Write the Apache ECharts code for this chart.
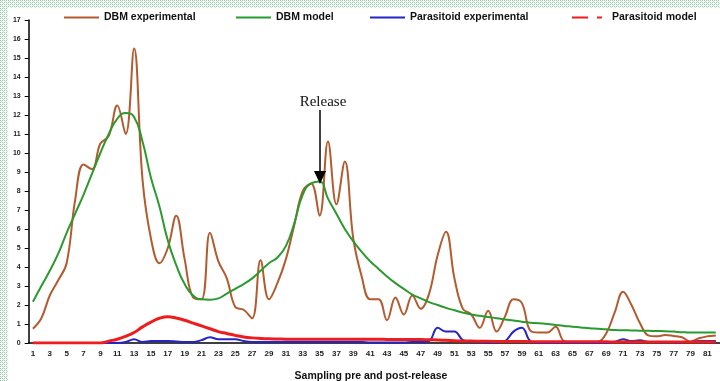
<!DOCTYPE html>
<html><head><meta charset="utf-8">
<script src="https://cdn.jsdelivr.net/npm/echarts@6/dist/echarts.min.js"></script>
<style>html,body{margin:0;padding:0;background:#fff}#c{width:720px;height:381px}</style>
</head><body><div id="c"></div>
<script>
const categories = [];
for (let i = 1; i <= 82; i++) categories.push(String(i));

const dbmExperimental = [0.75,1.3,2.5,3.3,4.2,7.5,9.4,9.15,10.5,10.9,12.5,11.0,15.5,8.6,5.5,4.2,5.0,6.7,4.4,2.4,
  2.3,5.8,4.3,3.4,1.9,1.75,1.3,4.35,2.3,3.15,4.4,6.2,8.0,8.4,6.7,10.6,7.3,9.55,5.5,3.5,
  2.3,2.3,1.2,2.4,1.5,2.5,1.8,2.6,4.6,5.85,3.4,1.8,1.5,0.8,1.7,0.6,1.4,2.3,2.1,0.65,
  0.55,0.55,0.85,0.1,0.05,0.05,0.05,0.05,0.5,1.6,2.7,2.0,1.05,0.4,0.35,0.42,0.37,0.3,0.07,0.25,
  0.35,0.4];
const dbmModel = [2.17,3.0,3.8,4.7,5.8,6.8,7.8,8.9,10.0,11.0,11.8,12.1,11.9,10.6,8.7,7.2,5.4,4.1,3.1,2.5,
  2.3,2.28,2.35,2.6,2.85,3.1,3.4,3.8,4.2,4.5,5.1,6.3,7.8,8.4,8.5,7.6,6.8,6.0,5.35,4.8,
  4.3,3.9,3.5,3.15,2.85,2.55,2.35,2.15,2.0,1.85,1.72,1.6,1.5,1.43,1.37,1.3,1.24,1.18,1.12,1.07,
  1.04,1.0,0.95,0.9,0.86,0.82,0.78,0.75,0.72,0.68,0.67,0.66,0.65,0.64,0.63,0.62,0.6,0.57,0.55,0.55,
  0.55,0.55];
const parasitoidExperimental = [0,0,0,0,0,0,0,0,0,0,0,0.05,0.2,0.05,0.1,0.1,0.1,0.08,0.05,0.05,
  0.15,0.3,0.2,0.2,0.2,0.1,0.05,0.05,0.05,0.05,0.05,0.05,0.05,0.05,0.05,0.05,0.05,0.05,0.05,0.05,
  0.03,0.03,0.03,0.03,0.03,0.05,0.05,0.1,0.8,0.6,0.6,0.15,0.05,0.05,0.03,0.03,0.1,0.6,0.8,0.1,
  0,0,0,0,0,0,0,0,0,0.05,0.2,0.1,0.15,0.05,0.03,0.03,0.03,0.03,0.05,0.1,
  0.1,0.1];
const parasitoidModel = [0,0,0,0,0,0,0,0,0,0.1,0.2,0.35,0.55,0.85,1.1,1.3,1.38,1.32,1.2,1.05,
  0.9,0.75,0.6,0.5,0.4,0.32,0.27,0.24,0.22,0.21,0.2,0.2,0.2,0.2,0.2,0.2,0.2,0.2,0.2,0.2,
  0.2,0.2,0.19,0.19,0.19,0.18,0.18,0.17,0.16,0.14,0.12,0.1,0.1,0.09,0.09,0.08,0.08,0.08,0.08,0.07,
  0.07,0.07,0.07,0.06,0.06,0.06,0.06,0.06,0.06,0.05,0.05,0.05,0.05,0.05,0.05,0.05,0.05,0.05,0.05,0.05,
  0.05,0.05];
const yTicks = {min: 0, max: 17, interval: 1};

const seriesNames = ['DBM experimental', 'DBM model', 'Parasitoid experimental', 'Parasitoid model'];
const colors = ['#b35a2e', '#2a9a2e', '#2424c8', '#ee1c1c'];

// dotted border pattern
const pc = document.createElement('canvas');
pc.width = 4; pc.height = 4;
const px = pc.getContext('2d');
px.fillStyle = '#ffffff'; px.fillRect(0,0,4,4);
px.fillStyle = '#8fcca3';
px.fillRect(0,0,1,1); px.fillRect(2,2,1,1); px.fillRect(2,0,1,1); px.fillRect(0,2,1,1);
px.fillStyle = '#c0e4cb';
px.fillRect(1,1,1,1); px.fillRect(3,3,1,1);

const chart = echarts.init(document.getElementById('c'), null, {renderer: 'canvas'});
const font = 'Liberation Sans, Arial, sans-serif';
function legendBase(i, left, dash) {
  const item = {name: seriesNames[i]};
  if (dash) item.lineStyle = {type: [16, 9, 5, 40], width: 2};
  return {
    show: true, top: 12, left: left, itemWidth: 35, itemHeight: 10, itemGap: 0, padding: 0,
    data: [item],
    itemStyle: {opacity: 0},
    textStyle: {fontFamily: font, fontWeight: 'bold', fontSize: 10.5, color: '#111'}
  };
}

chart.setOption({
  animation: false,
  backgroundColor: '#fff',
  color: colors,
  legend: [
    legendBase(0, 63),
    legendBase(1, 235),
    legendBase(2, 369),
    legendBase(3, 571, true)
  ],
  grid: {left: 28.7, right: -7, top: 20, bottom: 38, containLabel: false},
  xAxis: {
    type: 'category', data: categories, boundaryGap: true,
    axisLine: {lineStyle: {color: '#000', width: 1.5}},
    axisTick: {alignWithLabel: true, interval: 0, length: 4, lineStyle: {color: '#000', width: 1}},
    axisLabel: {interval: 1, margin: 7, fontFamily: font, fontWeight: 'bold', fontSize: 8, color: '#222'},
    splitLine: {show: false}
  },
  yAxis: {
    type: 'value', min: yTicks.min, max: yTicks.max, interval: yTicks.interval,
    axisLine: {show: true, lineStyle: {color: '#000', width: 1.5}},
    axisTick: {show: true, length: 4, lineStyle: {color: '#000', width: 1}},
    axisLabel: {margin: 8, fontFamily: font, fontWeight: 'bold', fontSize: 7, color: '#222'},
    splitLine: {show: false}
  },
  series: [
    {name: seriesNames[0], type: 'line', data: dbmExperimental, smooth: 0.4, symbol: 'none', z: 2,
     lineStyle: {width: 2, color: colors[0]}},
    {name: seriesNames[1], type: 'line', data: dbmModel, smooth: 0.5, symbol: 'none', z: 3,
     lineStyle: {width: 2, color: colors[1]}},
    {name: seriesNames[2], type: 'line', data: parasitoidExperimental, smooth: 0.4, symbol: 'none', z: 4,
     lineStyle: {width: 2, color: colors[2]}},
    {name: seriesNames[3], type: 'line', data: parasitoidModel, smooth: 0.5, symbol: 'none', z: 5,
     lineStyle: {width: 3, color: colors[3]}}
  ],
  graphic: [
    {type: 'rect', shape: {x: 0, y: 0, width: 720, height: 8}, style: {fill: {image: pc, repeat: 'repeat'}}, silent: true, z: 100},
    {type: 'rect', shape: {x: 0, y: 0, width: 8, height: 381}, style: {fill: {image: pc, repeat: 'repeat'}}, silent: true, z: 100},
    {type: 'text', style: {text: 'Sampling pre and post-release', x: 371, y: 376, textAlign: 'center', textVerticalAlign: 'middle', font: 'bold 10.5px ' + font, fill: '#111'}, z: 50},
    {type: 'text', style: {text: 'Release', x: 323, y: 102, textAlign: 'center', textVerticalAlign: 'middle', font: '15px "Liberation Serif", "DejaVu Serif", serif', fill: '#111'}, z: 50},
    {type: 'line', shape: {x1: 320, y1: 110, x2: 320, y2: 172}, style: {stroke: '#000', lineWidth: 1.5}, z: 50},
    {type: 'polygon', shape: {points: [[314, 171], [326, 171], [320, 184]]}, style: {fill: '#000'}, z: 50}
  ]
});
</script></body></html>
